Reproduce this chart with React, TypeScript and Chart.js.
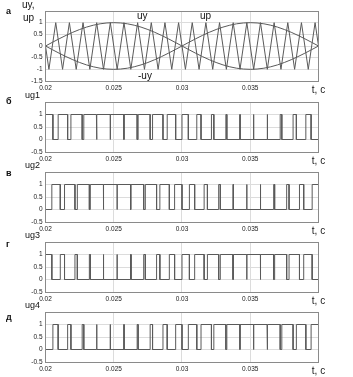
import React, { useEffect, useRef } from "react";
import { Chart, registerables } from "chart.js";

Chart.register(...registerables);

// ---------- data ----------
const xTickValues = [0.02, 0.025, 0.03, 0.035, 0.04];
const xTickLabels = ["0.02", "0.025", "0.03", "0.035", "t, c"];

// control signal uy sampled every 0.5 ms
const sineT = [
  0.02, 0.0205, 0.021, 0.0215, 0.022, 0.0225, 0.023, 0.0235, 0.024, 0.0245,
  0.025, 0.0255, 0.026, 0.0265, 0.027, 0.0275, 0.028, 0.0285, 0.029, 0.0295,
  0.03, 0.0305, 0.031, 0.0315, 0.032, 0.0325, 0.033, 0.0335, 0.034, 0.0345,
  0.035, 0.0355, 0.036, 0.0365, 0.037, 0.0375, 0.038, 0.0385, 0.039, 0.0395,
  0.04,
];
const uyValues = [
  0, 0.1564, 0.309, 0.454, 0.5878, 0.7071, 0.809, 0.891, 0.9511, 0.9877,
  1, 0.9877, 0.9511, 0.891, 0.809, 0.7071, 0.5878, 0.454, 0.309, 0.1564,
  0, -0.1564, -0.309, -0.454, -0.5878, -0.7071, -0.809, -0.891, -0.9511, -0.9877,
  -1, -0.9877, -0.9511, -0.891, -0.809, -0.7071, -0.5878, -0.454, -0.309, -0.1564,
  0,
];

// carrier up: vertices of the triangle
const carrierT = [
  0.02, 0.02025, 0.02075, 0.02125, 0.02175, 0.02225, 0.02275, 0.02325, 0.02375,
  0.02425, 0.02475, 0.02525, 0.02575, 0.02625, 0.02675, 0.02725, 0.02775,
  0.02825, 0.02875, 0.02925, 0.02975, 0.03025, 0.03075, 0.03125, 0.03175,
  0.03225, 0.03275, 0.03325, 0.03375, 0.03425, 0.03475, 0.03525, 0.03575,
  0.03625, 0.03675, 0.03725, 0.03775, 0.03825, 0.03875, 0.03925, 0.03975, 0.04,
];
const carrierValues = [
  0, -1, 1, -1, 1, -1, 1, -1, 1, -1, 1, -1, 1, -1, 1, -1, 1, -1, 1, -1, 1,
  -1, 1, -1, 1, -1, 1, -1, 1, -1, 1, -1, 1, -1, 1, -1, 1, -1, 1, -1, 1, 0,
];

// switching instants of ug1 / ug4 (ug4 = inverse of ug1)
const edgesUg1 = [
  0.0205424, 0.0209281, 0.021622, 0.0218618, 0.0226872, 0.0228067, 0.0237304,
  0.0237685, 0.0247492, 0.0247508, 0.0257432, 0.025757, 0.0267151, 0.026788,
  0.0276675, 0.0278431, 0.0286061, 0.0289165, 0.0295363, 0.03, 0.0304637,
  0.0310835, 0.0313939, 0.0321569, 0.0323325, 0.033212, 0.0332849, 0.034243,
  0.0342568, 0.0352492, 0.0352508, 0.0362315, 0.0362696, 0.0371933, 0.0373128,
  0.0381382, 0.038378, 0.0390719, 0.0394576,
];
// switching instants of ug2 / ug3 (ug3 = inverse of ug2)
const edgesUg2 = [
  0.0204637, 0.0210835, 0.0213939, 0.0221569, 0.0223325, 0.023212, 0.0232849,
  0.024243, 0.0242568, 0.0252492, 0.0252508, 0.0262315, 0.0262696, 0.0271933,
  0.0273128, 0.0281382, 0.028378, 0.0290719, 0.0294576, 0.03, 0.0305424,
  0.0309281, 0.031622, 0.0318618, 0.0326872, 0.0328067, 0.0337304, 0.0337685,
  0.0347492, 0.0347508, 0.0357432, 0.035757, 0.0367151, 0.036788, 0.0376675,
  0.0378431, 0.0386061, 0.0389165, 0.0395363,
];
const ugStartLevels = [1, 0, 1, 0];

// ---------- helpers ----------
const FONT = "'Liberation Sans', Arial, sans-serif";
const LINE = "#5a5a5a";
const GRID = "#dcdcdc";

function pairs(xs: number[], ys: number[]) {
  return xs.map((x, i) => ({ x, y: ys[i] }));
}
function steps(edges: number[], start: number) {
  const pts = [{ x: 0.02, y: start }];
  let v = start;
  for (const e of edges) {
    pts.push({ x: e, y: v });
    v = 1 - v;
    pts.push({ x: e, y: v });
  }
  pts.push({ x: 0.04, y: v });
  return pts;
}

type Txt = { t: string; x: number; y: number; size: number; bold?: boolean };

type PanelCfg = {
  canvasTop: number;
  padTop: number;
  plotH: number;
  yMin: number;
  yMax: number;
  datasets: { x: number; y: number }[][];
  texts: Txt[];
};

const W = 353;
const PLOT_LEFT = 45.5;
const PLOT_RIGHT = 318.5;
const X_AXIS_H = 16;

const panels: PanelCfg[] = [
  {
    canvasTop: 0,
    padTop: 11,
    plotH: 70,
    yMin: -1.5,
    yMax: 1.5,
    datasets: [
      pairs(carrierT, carrierValues),
      pairs(sineT, uyValues),
      pairs(sineT, uyValues.map((v) => -v)),
    ],
    texts: [
      { t: "а", x: 6, y: 12, size: 9, bold: true },
      { t: "uy,", x: 22, y: 5, size: 10 },
      { t: "up", x: 23, y: 18, size: 10 },
      { t: "uy", x: 137, y: 16, size: 10 },
      { t: "up", x: 200, y: 16, size: 10 },
      { t: "-uy", x: 138, y: 76, size: 10 },
    ],
  },
  ...["б", "в", "г", "д"].map((letter, i) => {
    const edges = i === 0 || i === 3 ? edgesUg1 : edgesUg2;
    const plotTop = 102 + 70 * i;
    const canvasTop = plotTop - 12;
    const letterY = [102, 174, 245, 318][i] - canvasTop;
    return {
      canvasTop,
      padTop: 12,
      plotH: 50,
      yMin: -0.5,
      yMax: 1.5,
      datasets: [steps(edges, ugStartLevels[i])],
      texts: [
        { t: letter, x: 6, y: letterY, size: 9, bold: true },
        { t: "ug" + (i + 1), x: 25, y: 6, size: 9 },
      ],
    } as PanelCfg;
  }),
];

function Panel({ cfg }: { cfg: PanelCfg }) {
  const ref = useRef<HTMLCanvasElement | null>(null);
  const h = cfg.padTop + cfg.plotH + X_AXIS_H;
  useEffect(() => {
    if (!ref.current) return;
    const framePlugin = {
      id: "frame",
      afterDraw(chart: any) {
        const { ctx, chartArea: a } = chart;
        ctx.save();
        ctx.strokeStyle = "#8a8a8a";
        ctx.lineWidth = 1;
        ctx.strokeRect(
          Math.floor(a.left) + 0.5,
          Math.floor(a.top) + 0.5,
          Math.round(a.right - a.left),
          Math.round(a.bottom - a.top)
        );
        ctx.fillStyle = "#111";
        ctx.textBaseline = "middle";
        ctx.textAlign = "left";
        for (const t of cfg.texts) {
          ctx.font = `${t.bold ? "bold " : ""}${t.size}px ${FONT}`;
          ctx.fillText(t.t, t.x, t.y);
        }
        ctx.restore();
      },
    };
    const chart = new Chart(ref.current, {
      type: "line",
      data: {
        datasets: cfg.datasets.map((d) => ({
          data: d,
          borderColor: LINE,
          borderWidth: 1,
          pointRadius: 0,
          fill: false,
          tension: 0,
        })),
      },
      options: {
        animation: false,
        responsive: false,
        devicePixelRatio: 1,
        events: [],
        layout: {
          padding: { left: 0, top: cfg.padTop, right: W - PLOT_RIGHT, bottom: 0 },
        },
        plugins: { legend: { display: false }, tooltip: { enabled: false } },
        scales: {
          x: {
            type: "linear",
            min: 0.02,
            max: 0.04,
            afterFit: (s: any) => {
              s.height = X_AXIS_H;
            },
            border: { display: false },
            grid: { color: GRID, drawTicks: false, lineWidth: 1 },
            ticks: {
              stepSize: 0.005,
              autoSkip: false,
              maxRotation: 0,
              padding: 3.5,
              color: "#1a1a1a",
              font: (c: any) =>
                Math.abs(c.tick?.value - 0.04) < 1e-9
                  ? { size: 10, family: FONT }
                  : { size: 6.5, family: FONT },
              callback: (v: any) => {
                const idx = xTickValues.findIndex((t) => Math.abs(t - Number(v)) < 1e-9);
                return idx >= 0 ? xTickLabels[idx] : "";
              },
            },
          },
          y: {
            type: "linear",
            min: cfg.yMin,
            max: cfg.yMax,
            afterFit: (s: any) => {
              s.width = PLOT_LEFT;
            },
            border: { display: false },
            grid: { color: GRID, drawTicks: false, lineWidth: 1 },
            ticks: {
              stepSize: 0.5,
              padding: 3,
              color: "#1a1a1a",
              font: { size: 6.5, family: FONT },
              callback: (v: any) =>
                Math.abs(Number(v) - cfg.yMax) < 1e-9 ? "" : String(Number(v)),
            },
          },
        },
      },
      plugins: [framePlugin],
    } as any);
    return () => chart.destroy();
  }, [cfg]);
  return (
    <canvas
      ref={ref}
      width={W}
      height={h}
      style={{ position: "absolute", left: 0, top: cfg.canvasTop, width: W, height: h }}
    />
  );
}

export default function App() {
  return (
    <div
      style={{
        position: "fixed",
        left: 0,
        top: 0,
        width: W,
        height: 377,
        background: "#fff",
        overflow: "hidden",
      }}
    >
      {panels.map((p, i) => (
        <Panel key={i} cfg={p} />
      ))}
    </div>
  );
}
